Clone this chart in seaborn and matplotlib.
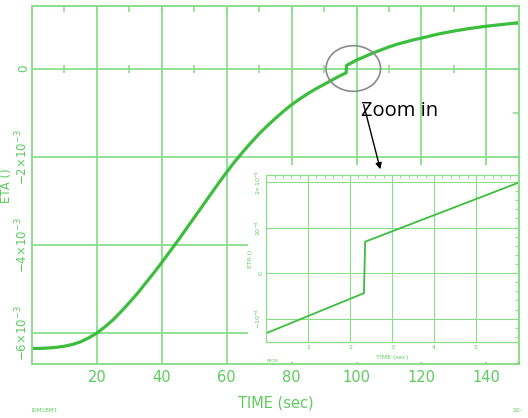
import numpy as np
import pandas as pd
import matplotlib
matplotlib.use('Agg')
from matplotlib import pyplot as plt
from matplotlib.patches import Ellipse, Rectangle
from matplotlib.ticker import FixedLocator, FixedFormatter, MultipleLocator
import seaborn as sns

# main trace, ETA in units of 1e-3
time_main = [0, 2.5, 5, 7.5, 10, 12.5, 15, 17.5, 20, 22.5, 25, 27.5, 30, 32.5,
             35, 37.5, 40, 42.5, 45, 47.5, 50, 52.5, 55, 57.5, 60, 62.5, 65,
             67.5, 70, 72.5, 75, 77.5, 80, 82.5, 85, 87.5, 90, 92.5, 95, 96.8,
             96.9, 100, 102.5, 105, 107.5, 110, 112.5, 115, 117.5, 120, 125,
             130, 135, 140, 145, 150]
eta_main = [-6.35, -6.35, -6.34, -6.325, -6.30, -6.26, -6.20, -6.11, -6.00,
            -5.86, -5.70, -5.51, -5.31, -5.10, -4.87, -4.64, -4.40, -4.15,
            -3.90, -3.64, -3.38, -3.12, -2.86, -2.60, -2.35, -2.11, -1.89,
            -1.68, -1.48, -1.30, -1.13, -0.97, -0.82, -0.69, -0.57, -0.46,
            -0.36, -0.26, -0.16, -0.10, 0.07, 0.19, 0.27, 0.35, 0.42, 0.49,
            0.55, 0.60, 0.65, 0.69, 0.78, 0.85, 0.91, 0.96, 1.00, 1.04]

# zoomed trace, ETA in units of 1e-4
time_zoom = [0.0, 2.33, 2.36, 6.0]
eta_zoom = [-1.32, -0.44, 0.69, 1.98]

main_xticks = [20, 40, 60, 80, 100, 120, 140]
main_yticks = [0, -2e-3, -4e-3, -6e-3]
main_ylabels = ['0', r'$-2{\times}10^{-3}$', r'$-4{\times}10^{-3}$', r'$-6{\times}10^{-3}$']
zoom_xticks = [1, 2, 3, 4, 5]
zoom_yticks = [-1e-4, 0, 1e-4, 2e-4]
zoom_ylabels = [r'$-10^{-4}$', '0', r'$10^{-4}$', r'$2{\times}10^{-4}$']

GREEN = '#5ccc5c'
CURVE = '#3dbd3d'
GRID = '#8ade8a'

sns.set_style('white')
plt.rcParams['font.family'] = ['Liberation Sans Narrow', 'DejaVu Sans']
plt.rcParams['mathtext.fontset'] = 'dejavusans'

fig = plt.figure(figsize=(5.28, 4.18), dpi=100)
ax = fig.add_axes([0.0606, 0.1285, 0.922, 0.857])

df = pd.DataFrame({'t': time_main, 'eta': np.array(eta_main) * 1e-3})
sns.lineplot(data=df, x='t', y='eta', ax=ax, color=CURVE, lw=2.3, zorder=2)
ax.set_xlim(0, 150)
ax.set_ylim(-6.71e-3, 1.417e-3)

ax.xaxis.set_major_locator(FixedLocator(main_xticks))
ax.xaxis.set_minor_locator(MultipleLocator(10))
ax.yaxis.set_major_locator(FixedLocator(main_yticks))
ax.yaxis.set_major_formatter(FixedFormatter(main_ylabels))
ax.yaxis.set_minor_locator(MultipleLocator(1e-3))
ax.grid(True, which='major', color=GRID, lw=1.3)
for s in ax.spines.values():
    s.set_color(GRID)
    s.set_linewidth(1.4)
ax.tick_params(which='both', direction='in', top=True, right=True,
               color=GRID, length=4, width=1.2, labelcolor=GREEN)
ax.tick_params(axis='x', labelsize=10.5, pad=4)
ax.tick_params(axis='y', labelsize=8.5, labelrotation=90, pad=1.5)
for lab in ax.get_yticklabels():
    lab.set_family('DejaVu Sans')
    lab.set_va('center')

# little ticks on the zero line
zero_ticks = np.arange(10, 150, 20)
ax.plot(zero_ticks, np.zeros_like(zero_ticks), ls='none', marker='|', ms=6,
        mew=1.2, color=GRID, zorder=1.6)

ax.set_xlabel('TIME (sec)', fontsize=10.5, color=GREEN, labelpad=8)
ax.set_ylabel('ETA ()', fontsize=8.5, color=GREEN, labelpad=0, family='DejaVu Sans')

# white box behind the inset
ax.add_patch(Rectangle((0.4435, 0.006), 0.5565, 0.55, transform=ax.transAxes,
                       facecolor='white', edgecolor='none', zorder=2.2))

ax.add_patch(Ellipse((99.0, 0.0), 16.8, 1.036e-3, facecolor='none',
                     edgecolor='#8a8a8a', lw=1.2, zorder=4))
ax.annotate('', xy=(381, 246), xycoords='figure pixels',
            xytext=(363, 316), textcoords='figure pixels',
            arrowprops=dict(arrowstyle='-|>', color='black', lw=1,
                            mutation_scale=9), zorder=5)
fig.text(361 / 528, 1 - 111 / 418, 'Zoom in', fontsize=14.5, color='black',
         family='Open Sans', ha='left', va='center')

fig.text(32 / 528, 1 - 410 / 418, 'IDMCBM1', fontsize=4, color=GREEN,
         ha='left', va='center')
fig.text(512 / 528, 1 - 410 / 418, '10-', fontsize=4.5, color=GREEN,
         ha='left', va='center')

# inset
axi = fig.add_axes([0.504, 0.182, 0.477, 0.399])
axi.set_facecolor('white')
dz = pd.DataFrame({'t': time_zoom, 'eta': np.array(eta_zoom) * 1e-4})
sns.lineplot(data=dz, x='t', y='eta', ax=axi, color=CURVE, lw=1.3)
axi.set_xlim(0, 6)
axi.set_ylim(-1.51e-4, 2.15e-4)
axi.xaxis.set_major_locator(FixedLocator(zoom_xticks))
axi.xaxis.set_minor_locator(MultipleLocator(0.2))
axi.yaxis.set_major_locator(FixedLocator(zoom_yticks))
axi.yaxis.set_major_formatter(FixedFormatter(zoom_ylabels))
axi.yaxis.set_minor_locator(MultipleLocator(0.2e-4))
axi.grid(True, which='major', color=GRID, lw=0.8)
for s in axi.spines.values():
    s.set_color(GRID)
    s.set_linewidth(0.9)
axi.tick_params(which='both', direction='in', top=True, right=True,
                color=GRID, length=2, width=0.7, labelcolor=GREEN)
axi.tick_params(axis='x', labelsize=4.5, pad=2)
axi.tick_params(axis='y', labelsize=4.5, labelrotation=90, pad=2)
for lab in axi.get_yticklabels():
    lab.set_va('center')
axi.set_xlabel('TIME (sec)', fontsize=4.5, color=GREEN, labelpad=4)
axi.set_ylabel('ETA ()', fontsize=4.5, color=GREEN, labelpad=1)

fig.text(267 / 528, 1 - 361 / 418, 'ERCBI', fontsize=3, color=GREEN,
         ha='left', va='center')
fig.text(516 / 528, 1 - 363 / 418, 'Ju', fontsize=3, color=GREEN,
         ha='left', va='center')

plt.savefig('out.png', dpi=100)
